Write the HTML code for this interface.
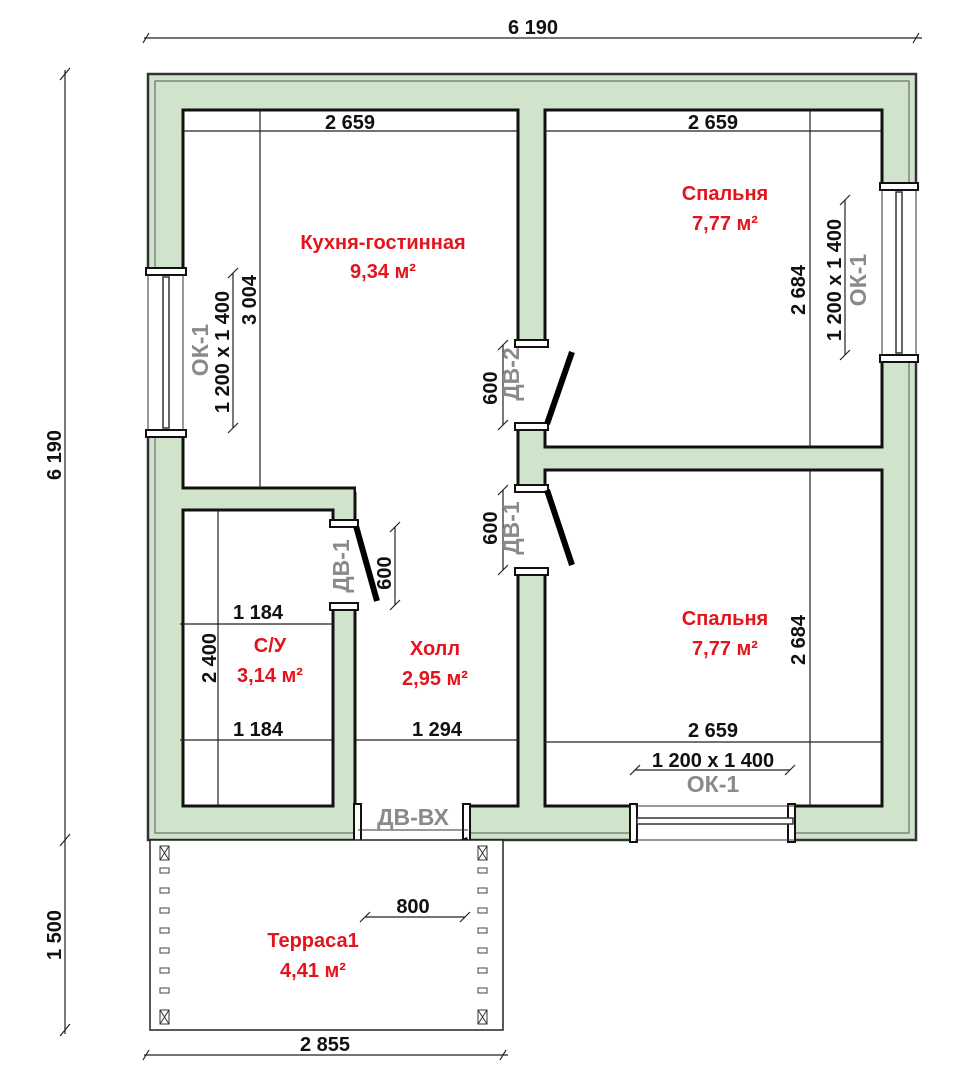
<!DOCTYPE html>
<html><head><meta charset="utf-8"><style>
html,body{margin:0;padding:0;background:#fff}
svg{display:block}
.d{font-family:"Liberation Sans",sans-serif;font-weight:bold;font-size:20px;fill:#111}
.r{font-family:"Liberation Sans",sans-serif;font-weight:bold;font-size:20px;fill:#e3141c}
.g{font-family:"Liberation Sans",sans-serif;font-weight:bold;font-size:23px;fill:#8a8a8a}
</style></head><body>
<svg width="980" height="1080" viewBox="0 0 980 1080" xmlns="http://www.w3.org/2000/svg">
<rect x="148" y="74" width="768" height="766" fill="#d0e4cc" stroke="#333" stroke-width="2.5"/>
<rect x="155" y="81" width="754" height="752" fill="none" stroke="#555" stroke-width="1"/>
<g fill="#fff" stroke="#111" stroke-width="3">
<path d="M183 110 H518 V488 H183 Z"/>
<path d="M355 488 H518 V806 H355 Z"/>
<rect x="183" y="510" width="150" height="296"/>
<rect x="545" y="110" width="337" height="337"/>
<rect x="545" y="470" width="337" height="336"/>
</g>
<g fill="#fff">
<rect x="356" y="486" width="160" height="6"/>
<rect x="516" y="345" width="31" height="80"/>
<rect x="516" y="490" width="31" height="80"/>
<rect x="331" y="525" width="26" height="80"/>
<rect x="146" y="275" width="39" height="155"/>
<rect x="880" y="190" width="38" height="165"/>
<rect x="635" y="804" width="160" height="38"/>
<rect x="358" y="804" width="110" height="38"/>
</g>
<g fill="#fff" stroke="#111" stroke-width="2">
<rect x="515" y="340" width="33" height="7"/><rect x="515" y="423" width="33" height="7"/>
<rect x="515" y="485" width="33" height="7"/><rect x="515" y="568" width="33" height="7"/>
<rect x="330" y="520" width="28" height="7"/><rect x="330" y="603" width="28" height="7"/>
<rect x="146" y="268" width="40" height="7"/><rect x="146" y="430" width="40" height="7"/>
<rect x="880" y="183" width="38" height="7"/><rect x="880" y="355" width="38" height="7"/>
<rect x="630" y="804" width="7" height="38"/><rect x="788" y="804" width="7" height="38"/>
<rect x="354" y="804" width="7" height="38"/><rect x="463" y="804" width="7" height="38"/>
</g>
<g stroke="#333" stroke-width="1.5" fill="#fff">
<rect x="163" y="277" width="6" height="151"/>
<rect x="896" y="192" width="6" height="161"/>
<rect x="637" y="818" width="156" height="6"/>
</g>
<g stroke="#333" stroke-width="1">
<line x1="183" y1="275" x2="183" y2="430"/><line x1="148" y1="275" x2="148" y2="430"/>
<line x1="882" y1="190" x2="882" y2="355"/><line x1="916" y1="190" x2="916" y2="355"/>
<line x1="635" y1="806" x2="795" y2="806"/><line x1="635" y1="840" x2="795" y2="840"/>
<line x1="358" y1="830" x2="468" y2="830"/>
</g>
<g stroke="#000" stroke-width="6" stroke-linecap="butt">
<line x1="547" y1="424" x2="572" y2="352"/>
<line x1="547" y1="490" x2="572" y2="565"/>
<line x1="356" y1="526" x2="377" y2="601"/>
<line x1="468" y1="840" x2="369" y2="875"/>
</g>
<rect x="150" y="840" width="353" height="190" fill="#fff" stroke="#222" stroke-width="1.5"/>
<g fill="#fff" stroke="#333" stroke-width="1">
<rect x="160" y="846" width="9" height="14"/><rect x="478" y="846" width="9" height="14"/>
<rect x="160" y="1010" width="9" height="14"/><rect x="478" y="1010" width="9" height="14"/>
</g>
<g stroke="#333" stroke-width="1">
<path d="M160 846 L169 860 M169 846 L160 860 M478 846 L487 860 M487 846 L478 860 M160 1010 L169 1024 M169 1010 L160 1024 M478 1010 L487 1024 M487 1010 L478 1024"/>
</g>
<g fill="#fff" stroke="#444" stroke-width="1">
<rect x="160" y="868" width="9" height="5"/><rect x="160" y="888" width="9" height="5"/><rect x="160" y="908" width="9" height="5"/><rect x="160" y="928" width="9" height="5"/><rect x="160" y="948" width="9" height="5"/><rect x="160" y="968" width="9" height="5"/><rect x="160" y="988" width="9" height="5"/>
<rect x="478" y="868" width="9" height="5"/><rect x="478" y="888" width="9" height="5"/><rect x="478" y="908" width="9" height="5"/><rect x="478" y="928" width="9" height="5"/><rect x="478" y="948" width="9" height="5"/><rect x="478" y="968" width="9" height="5"/><rect x="478" y="988" width="9" height="5"/>
</g>
<g stroke="#222" stroke-width="1.2">
<line x1="144" y1="38" x2="922" y2="38"/>
<line x1="65" y1="70" x2="65" y2="1034"/>
<line x1="144" y1="1055" x2="508" y2="1055"/>
<line x1="183" y1="131" x2="518" y2="131"/><line x1="545" y1="131" x2="882" y2="131"/>
<line x1="260" y1="110" x2="260" y2="488"/>
<line x1="233" y1="273" x2="233" y2="428"/>
<line x1="810" y1="110" x2="810" y2="447"/>
<line x1="845" y1="200" x2="845" y2="355"/>
<line x1="810" y1="470" x2="810" y2="806"/>
<line x1="545" y1="742" x2="882" y2="742"/>
<line x1="635" y1="770" x2="790" y2="770"/>
<line x1="180" y1="624" x2="333" y2="624"/>
<line x1="180" y1="740" x2="333" y2="740"/>
<line x1="355" y1="740" x2="518" y2="740"/>
<line x1="218" y1="510" x2="218" y2="806"/>
<line x1="503" y1="345" x2="503" y2="425"/>
<line x1="503" y1="490" x2="503" y2="570"/>
<line x1="395" y1="527" x2="395" y2="605"/>
<line x1="365" y1="917" x2="465" y2="917"/>
</g>
<g stroke="#222" stroke-width="1.2">
<path d="M143 43 L149 33 M913 43 L919 33 M60 80 L70 68 M60 846 L70 834 M60 1036 L70 1024 M143 1060 L149 1050 M500 1060 L506 1050
M228 278 L238 268 M228 433 L238 423 M840 205 L850 195 M840 360 L850 350 M630 775 L640 765 M785 775 L795 765
M498 350 L508 340 M498 430 L508 420 M498 495 L508 485 M498 575 L508 565 M390 532 L400 522 M390 610 L400 600 M360 922 L370 912 M460 922 L470 912"/>
</g>
<text class="d" x="533" y="34" text-anchor="middle">6 190</text>
<text class="d" transform="translate(61,455) rotate(-90)" text-anchor="middle">6 190</text>
<text class="d" transform="translate(61,935) rotate(-90)" text-anchor="middle">1 500</text>
<text class="d" x="325" y="1051" text-anchor="middle">2 855</text>
<text class="d" x="350" y="129" text-anchor="middle">2 659</text>
<text class="d" x="713" y="129" text-anchor="middle">2 659</text>
<text class="d" transform="translate(256,300) rotate(-90)" text-anchor="middle">3 004</text>
<text class="d" transform="translate(229,352) rotate(-90)" text-anchor="middle">1 200 x 1 400</text>
<text class="g" transform="translate(208,350) rotate(-90)" text-anchor="middle">ОК-1</text>
<text class="d" transform="translate(805,290) rotate(-90)" text-anchor="middle">2 684</text>
<text class="d" transform="translate(841,280) rotate(-90)" text-anchor="middle">1 200 x 1 400</text>
<text class="g" transform="translate(866,280) rotate(-90)" text-anchor="middle">ОК-1</text>
<text class="d" transform="translate(805,640) rotate(-90)" text-anchor="middle">2 684</text>
<text class="d" x="713" y="737" text-anchor="middle">2 659</text>
<text class="d" x="713" y="767" text-anchor="middle">1 200 x 1 400</text>
<text class="g" x="713" y="792" text-anchor="middle">ОК-1</text>
<text class="d" x="258" y="619" text-anchor="middle">1 184</text>
<text class="d" x="258" y="736" text-anchor="middle">1 184</text>
<text class="d" x="437" y="736" text-anchor="middle">1 294</text>
<text class="d" transform="translate(216,658) rotate(-90)" text-anchor="middle">2 400</text>
<text class="d" transform="translate(497,388) rotate(-90)" text-anchor="middle">600</text>
<text class="g" transform="translate(519,374) rotate(-90)" text-anchor="middle">ДВ-2</text>
<text class="d" transform="translate(497,528) rotate(-90)" text-anchor="middle">600</text>
<text class="g" transform="translate(519,528) rotate(-90)" text-anchor="middle">ДВ-1</text>
<text class="g" transform="translate(349,566) rotate(-90)" text-anchor="middle">ДВ-1</text>
<text class="d" transform="translate(391,573) rotate(-90)" text-anchor="middle">600</text>
<text class="g" x="413" y="825" text-anchor="middle">ДВ-ВХ</text>
<text class="d" x="413" y="913" text-anchor="middle">800</text>
<text class="r" x="383" y="249" text-anchor="middle">Кухня-гостинная</text>
<text class="r" x="383" y="278" text-anchor="middle">9,34 м²</text>
<text class="r" x="725" y="200" text-anchor="middle">Спальня</text>
<text class="r" x="725" y="230" text-anchor="middle">7,77 м²</text>
<text class="r" x="270" y="652" text-anchor="middle">С/У</text>
<text class="r" x="270" y="682" text-anchor="middle">3,14 м²</text>
<text class="r" x="435" y="655" text-anchor="middle">Холл</text>
<text class="r" x="435" y="685" text-anchor="middle">2,95 м²</text>
<text class="r" x="725" y="625" text-anchor="middle">Спальня</text>
<text class="r" x="725" y="655" text-anchor="middle">7,77 м²</text>
<text class="r" x="313" y="947" text-anchor="middle">Терраса1</text>
<text class="r" x="313" y="977" text-anchor="middle">4,41 м²</text>
</svg>
</body></html>
